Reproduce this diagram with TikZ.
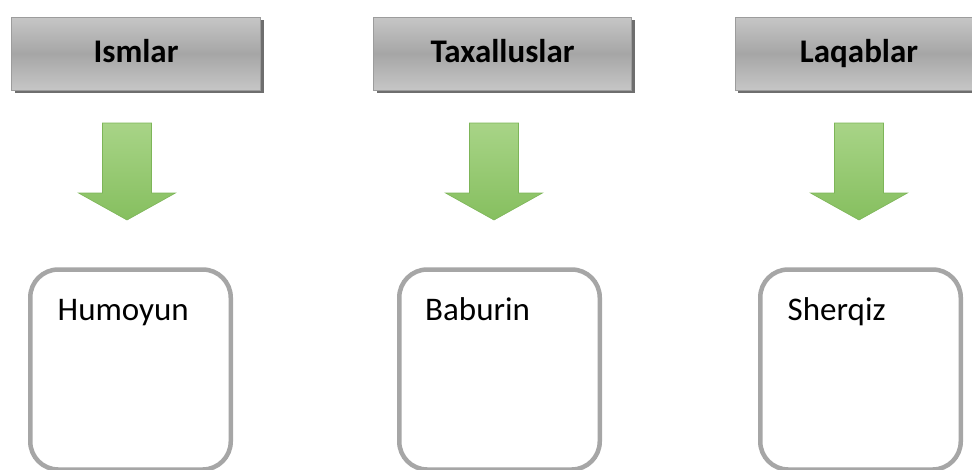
\documentclass[tikz,border=0pt]{standalone}
\usepackage{fontspec}
\setmainfont{Carlito}
\usetikzlibrary{positioning, shadows}

\definecolor{hdrlight}{HTML}{C6C6C6}
\definecolor{hdrdark}{HTML}{A6A6A6}
\definecolor{hdrline}{HTML}{9C9C9C}
\definecolor{hdrshadow}{HTML}{6E6E6E}
\definecolor{arrlight}{HTML}{A8D487}
\definecolor{arrmid}{HTML}{74B446}
\definecolor{arrdark}{HTML}{86BF5F}
\definecolor{arrline}{HTML}{7DB558}
\definecolor{boxline}{HTML}{A6A6A6}

\tikzset{
  header/.style={draw=hdrline, line width=0.8pt, top color=hdrlight, bottom color=hdrlight,
    middle color=hdrdark, minimum height=73pt, inner sep=0pt, text height=23pt, text depth=6pt,
    font=\fontsize{33}{36}\selectfont\bfseries,
    drop shadow={shadow xshift=3pt, shadow yshift=-3pt, fill=hdrshadow, opacity=1}},
  namebox/.style={draw=boxline, line width=4.5pt, rounded corners=28pt, fill=white,
    minimum width=200.5pt, minimum height=200pt, anchor=north},
  nametext/.style={anchor=base west, inner sep=0pt, font=\fontsize{33}{36}\selectfont},
  blockarrow/.style={draw=arrline, line width=0.6pt, top color=arrlight, middle color=arrmid,
    bottom color=arrdark}
}

\begin{document}
\begin{tikzpicture}[x=1pt, y=-1pt]
    \useasboundingbox (0,0) rectangle (972,469);
    \clip (0,0) rectangle (972,469);

    % headers
    \node[header, minimum width=249pt] (h1) at (136,53.5) {Ismlar};
    \node[header, minimum width=258pt] (h2) at (502.5,53.5) {Taxalluslar};
    \node[header, minimum width=248pt] (h3) at (859,53.5) {Laqablar};

    % arrows
    \coordinate (a1) at (127,123);
    \coordinate (a2) at (494,123);
    \coordinate (a3) at (859,123);
    \foreach \n in {1,2,3}
      \path[blockarrow, shift={(a\n)}]
        (-24.5,0) -- (24.5,0) -- (24.5,70) -- (48.5,70) -- (0,97)
        -- (-48.5,70) -- (-24.5,70) -- cycle;

    % boxes
    \node[namebox] (b1) at (130.5,267.25) {};
    \node[namebox] (b2) at (499.5,267.25) {};
    \node[namebox] (b3) at (860.5,267.25) {};

    \node[nametext, xshift=29.5pt, yshift=-52.75pt] (t1) at (b1.north west) {Humoyun};
    \node[nametext, xshift=28pt, yshift=-52.75pt] (t2) at (b2.north west) {Baburin};
    \node[nametext, xshift=29.5pt, yshift=-52.75pt] (t3) at (b3.north west) {Sherqiz};
\end{tikzpicture}
\end{document}
